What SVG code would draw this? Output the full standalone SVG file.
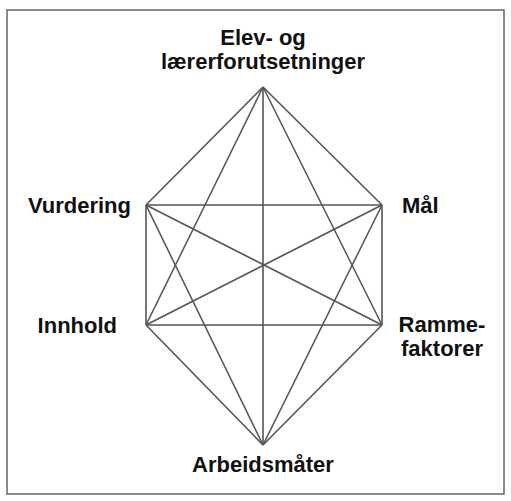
<svg xmlns="http://www.w3.org/2000/svg" width="511" height="501" viewBox="0 0 511 501">
<style>
.lbl{font-family:"Liberation Sans",Arial,sans-serif;font-weight:bold;font-size:22px;fill:#111;}
.e{stroke:#555;stroke-width:1.6;fill:none;}
</style>
<rect x="0" y="0" width="511" height="501" fill="#fff"/>
<rect x="7" y="10" width="497" height="484" fill="none" stroke="#666" stroke-width="1.5"/>
<g id="connectors">
<line class="e" x1="263" y1="87" x2="146" y2="205"/>
<line class="e" x1="263" y1="87" x2="382" y2="205"/>
<line class="e" x1="263" y1="87" x2="146" y2="325"/>
<line class="e" x1="263" y1="87" x2="382" y2="325"/>
<line class="e" x1="263" y1="87" x2="263" y2="445"/>
<line class="e" x1="146" y1="205" x2="382" y2="205"/>
<line class="e" x1="146" y1="205" x2="146" y2="325"/>
<line class="e" x1="146" y1="205" x2="382" y2="325"/>
<line class="e" x1="146" y1="205" x2="263" y2="445"/>
<line class="e" x1="382" y1="205" x2="146" y2="325"/>
<line class="e" x1="382" y1="205" x2="382" y2="325"/>
<line class="e" x1="382" y1="205" x2="263" y2="445"/>
<line class="e" x1="146" y1="325" x2="382" y2="325"/>
<line class="e" x1="146" y1="325" x2="263" y2="445"/>
<line class="e" x1="382" y1="325" x2="263" y2="445"/>
</g>
<g id="node-elev"><text class="lbl" x="263" y="45" text-anchor="middle">Elev- og</text><text class="lbl" x="263" y="69" text-anchor="middle">lærerforutsetninger</text></g>
<g id="node-maal"><text class="lbl" x="402" y="213">Mål</text></g>
<g id="node-ramme"><text class="lbl" x="442" y="332" text-anchor="middle">Ramme-</text><text class="lbl" x="442" y="356" text-anchor="middle">faktorer</text></g>
<g id="node-arbeid"><text class="lbl" x="263" y="472" text-anchor="middle">Arbeidsmåter</text></g>
<g id="node-innhold"><text class="lbl" x="117" y="333" text-anchor="end">Innhold</text></g>
<g id="node-vurdering"><text class="lbl" x="131" y="213" text-anchor="end">Vurdering</text></g>
</svg>
